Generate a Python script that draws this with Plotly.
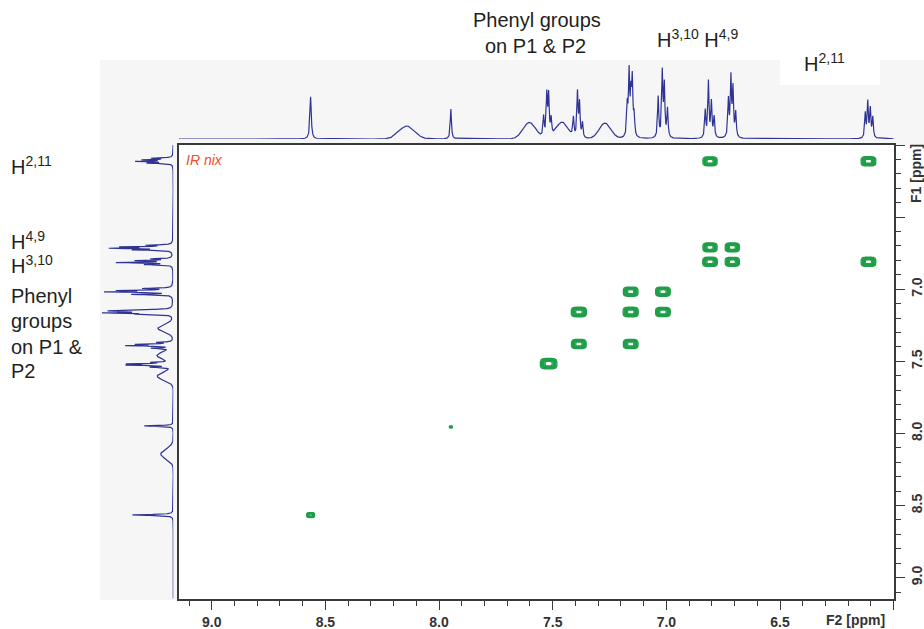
import numpy as np
import plotly.graph_objects as go

# ---------------- data ----------------
# 1D proton spectrum: individual lines (ppm, relative height, line width in ppm)
line_ppm = [8.565, 8.142, 7.948, 7.603,
            7.540, 7.526, 7.518, 7.507, 7.459,
            7.409, 7.391, 7.382, 7.369, 7.270,
            7.172, 7.164, 7.156, 7.150, 7.142,
            7.036, 7.018, 7.009, 6.995,
            6.829, 6.815, 6.802, 6.790,
            6.727, 6.716, 6.707, 6.695,
            6.125, 6.114, 6.103, 6.092]
line_height = [0.62, 0.19, 0.44, 0.24,
               0.30, 0.62, 0.60, 0.25, 0.24,
               0.28, 0.66, 0.50, 0.22, 0.23,
               0.45, 0.92, 0.55, 0.80, 0.30,
               0.60, 0.95, 0.75, 0.42,
               0.40, 0.82, 0.52, 0.30,
               0.55, 0.86, 0.70, 0.36,
               0.36, 0.52, 0.42, 0.30]
line_width = [0.007, 0.080, 0.006, 0.065,
              0.006, 0.006, 0.006, 0.006, 0.060,
              0.006, 0.006, 0.006, 0.006, 0.060,
              0.006, 0.006, 0.006, 0.006, 0.006,
              0.006, 0.006, 0.006, 0.006,
              0.006, 0.006, 0.006, 0.006,
              0.006, 0.006, 0.006, 0.006,
              0.006, 0.006, 0.006, 0.006]

# COSY cross peaks (F2 ppm, F1 ppm, half size in ppm)
cross_f2 = [8.565, 7.948, 7.518, 7.385, 7.157, 7.015, 7.385, 7.015, 7.157, 7.157,
            6.808, 6.710, 6.808, 6.710, 6.111, 6.808, 6.111]
cross_f1 = [8.566, 7.955, 7.516, 7.380, 7.158, 7.017, 7.158, 7.158, 7.380, 7.017,
            6.810, 6.710, 6.710, 6.810, 6.113, 6.113, 6.810]
cross_hw = [0.017, 0.007, 0.036, 0.032, 0.033, 0.032, 0.033, 0.032, 0.032, 0.032,
            0.032, 0.031, 0.031, 0.031, 0.032, 0.031, 0.032]

# axis ticks
x_major = [9.0, 8.5, 8.0, 7.5, 7.0, 6.5, 6.0]
x_labels = ["9.0", "8.5", "8.0", "7.5", "7.0", "6.5", ""]
y_major = [9.0, 8.5, 8.0, 7.5, 7.0, 6.5, 6.0]
y_labels = ["9.0", "8.5", "8.0", "7.5", "7.0", "", ""]

PPM_LO, PPM_HI = 6.0, 9.144

# ---------------- build spectrum ----------------
ppm = np.arange(PPM_LO, PPM_HI + 0.0004, 0.0005)
spec = np.zeros_like(ppm)
for c, h, w in zip(line_ppm, line_height, line_width):
    if w < 0.02:
        spec += h / (1 + ((ppm - c) / (w / 2)) ** 2)
    else:
        spec += h * np.exp(-4 * np.log(2) * ((ppm - c) / w) ** 2)
spec = spec / spec.max()

W, H = 924, 629
def px(x):
    return x / W
def py(y):
    return 1 - y / H

SPEC_COLOR = "#2f3494"
GREEN = "#1f9e48"
AX = "#3a3a3a"
FONT = "Liberation Sans, Arial, sans-serif"

fig = go.Figure()

# top projection
fig.add_trace(go.Scatter(x=ppm, y=spec, mode="lines", xaxis="x2", yaxis="y2",
                         line=dict(color=SPEC_COLOR, width=1.2), hoverinfo="skip",
                         showlegend=False))
# left projection
fig.add_trace(go.Scatter(x=spec, y=ppm, mode="lines", xaxis="x3", yaxis="y3",
                         line=dict(color=SPEC_COLOR, width=1.2), hoverinfo="skip",
                         showlegend=False))

# cross peaks as contours
for f2, f1, hw in zip(cross_f2, cross_f1, cross_hw):
    gx = np.linspace(f2 - 1.5 * hw, f2 + 1.5 * hw, 41)
    gy = np.linspace(f1 - 1.5 * hw, f1 + 1.5 * hw, 41)
    a = hw / 1.26
    X, Y = np.meshgrid(gx, gy)
    Z = np.exp(-(((X - f2) / a) ** 4 + ((Y - f1) / a) ** 4))
    fig.add_trace(go.Contour(x=gx, y=gy, z=Z, xaxis="x", yaxis="y",
                             contours=dict(start=0.08, end=0.95, size=0.14, coloring="lines"),
                             colorscale=[[0, GREEN], [1, GREEN]], showscale=False,
                             line=dict(width=1.3), hoverinfo="skip"))

tickfont = dict(family=FONT, size=14, color="#333333", weight="bold")

fig.update_layout(
    width=W, height=H,
    margin=dict(l=0, r=0, t=0, b=0),
    paper_bgcolor="white", plot_bgcolor="rgba(0,0,0,0)",
    showlegend=False,
    xaxis=dict(domain=[px(179), px(893.7)], range=[PPM_HI, PPM_LO], anchor="y",
               showline=True, linecolor=AX, linewidth=1.5, mirror=True,
               ticks="outside", ticklen=9, tickwidth=1.3, tickcolor=AX,
               tickmode="array", tickvals=x_major, ticktext=x_labels, tickfont=tickfont,
               minor=dict(tickmode="linear", tick0=6.0, dtick=0.1, ticks="outside",
                          ticklen=5, tickwidth=1.2, tickcolor=AX),
               showgrid=False, zeroline=False),
    yaxis=dict(domain=[py(599), py(145)], range=[9.148, PPM_LO], anchor="x", side="right",
               showline=True, linecolor=AX, linewidth=1.5, mirror=True,
               ticks="outside", ticklen=10, tickwidth=1.3, tickcolor=AX,
               tickmode="array", tickvals=y_major, ticktext=y_labels, tickfont=tickfont,
               tickangle=-90,
               minor=dict(tickmode="linear", tick0=6.0, dtick=0.1, ticks="outside",
                          ticklen=6, tickwidth=1.2, tickcolor=AX),
               showgrid=False, zeroline=False),
    xaxis2=dict(domain=[px(179), px(893.7)], matches="x", anchor="y2", visible=False),
    yaxis2=dict(domain=[py(139), py(65)], range=[0, 1], anchor="x2", visible=False),
    xaxis3=dict(domain=[px(101.7), px(173.3)], range=[1, 0], anchor="y3", visible=False),
    yaxis3=dict(domain=[py(599), py(145)], matches="y", anchor="x3", visible=False),
)

# light projection strips
fig.add_shape(type="rect", xref="paper", yref="paper", x0=px(100), x1=1, y0=py(145), y1=py(60),
              fillcolor="#f6f6f6", line=dict(width=0), layer="below")
fig.add_shape(type="rect", xref="paper", yref="paper", x0=px(100), x1=px(179), y0=py(600), y1=py(145),
              fillcolor="#f6f6f6", line=dict(width=0), layer="below")
fig.add_shape(type="rect", xref="paper", yref="paper", x0=px(780), x1=px(880), y0=py(85), y1=py(45),
              fillcolor="white", line=dict(width=0), layer="below")

lab = dict(family=FONT, size=20, color="#231f20")
def ann(text, x, y, xanchor="left"):
    fig.add_annotation(text=text, xref="paper", yref="paper", x=px(x), y=py(y),
                       xanchor=xanchor, yanchor="middle", showarrow=False, font=lab)

# top labels
ann("Phenyl groups", 537, 20, "center")
ann("on P1 &amp; P2", 535, 46, "center")
ann("H<sup>3,10</sup> H<sup>4,9</sup>", 697, 38, "center")
ann("H<sup>2,11</sup>", 824, 63, "center")
# left labels
ann("H<sup>2,11</sup>", 9, 165)
ann("H<sup>4,9</sup>", 9, 240)
ann("H<sup>3,10</sup>", 9, 264)
ann("Phenyl", 9, 296)
ann("groups", 9, 321)
ann("on P1 &amp;", 9, 347)
ann("P2", 9, 371)

# axis titles
fig.add_annotation(text="F2 [ppm]", xref="paper", yref="paper", x=px(855), y=py(620),
                   xanchor="center", yanchor="middle", showarrow=False, font=tickfont)
fig.add_annotation(text="F1 [ppm]", xref="paper", yref="paper", x=px(916), y=py(174),
                   xanchor="center", yanchor="middle", showarrow=False, font=tickfont,
                   textangle=-90)
# IR nix tag
fig.add_annotation(text="<i>IR nix</i>", xref="paper", yref="paper", x=px(184), y=py(160),
                   xanchor="left", yanchor="middle", showarrow=False,
                   font=dict(family=FONT, size=14, color="#e8502e"))

fig.write_html("out.html", config={"displayModeBar": False},
               post_script="document.body.style.margin='0px';document.body.style.padding='0px';")
